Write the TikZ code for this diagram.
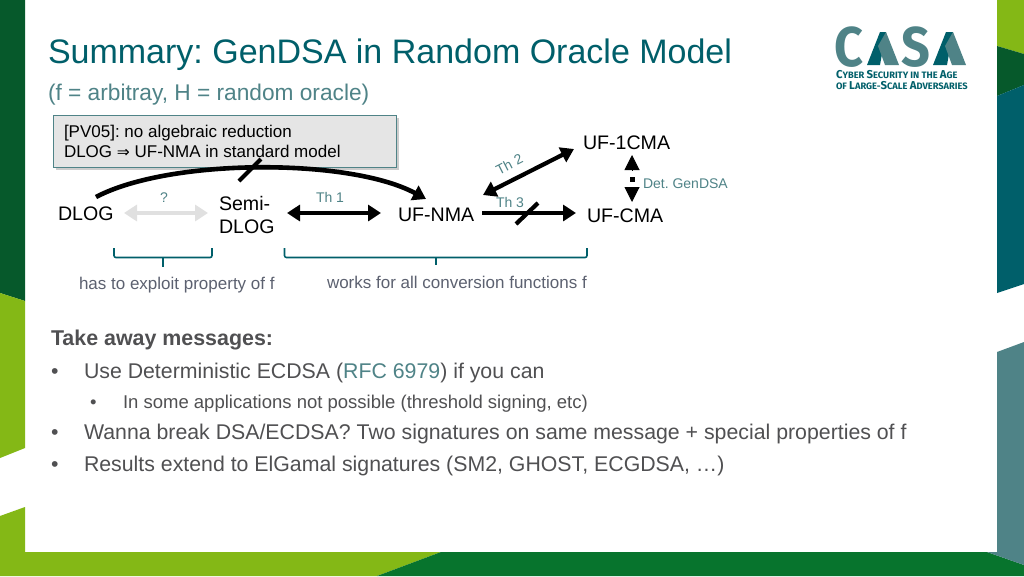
\documentclass[tikz,border=0pt]{standalone}
\usepackage{graphicx}
\usepackage{fontspec}
\setmainfont{Liberation Sans}
\newfontfamily\logofont{Fira Sans}
\newfontfamily\symfont{DejaVu Sans}
\usetikzlibrary{arrows.meta,shadows}
\AtBeginDocument{\frenchspacing}
\definecolor{lgreen}{HTML}{84B816}
\definecolor{dgreen}{HTML}{06592B}
\definecolor{bgreen}{HTML}{07742D}
\definecolor{teal1}{HTML}{005F6A}
\definecolor{teal2}{HTML}{4F8387}
\definecolor{bodyc}{HTML}{505052}
\definecolor{smallc}{HTML}{5C6170}
\newcommand{\fs}[1]{\fontsize{#1}{#1}\selectfont}
\tikzset{
  x=1pt,y=-1pt,
  every node/.style={inner sep=0pt,outer sep=0pt},
  term/.style={font=\fs{19.6},text=black,anchor=base west,align=left},
  bigarrow/.style={line width=4.2pt,black,-{Triangle[length=13pt,width=16pt]}},
  bothway/.style={line width=4.2pt,black,{Triangle[length=13pt,width=16pt]}-{Triangle[length=13pt,width=16pt]}},
  greyway/.style={line width=4.2pt,black!12,{Triangle[length=13pt,width=16pt]}-{Triangle[length=13pt,width=16pt]}},
  headonly/.style={line width=1pt,black,-{Triangle[length=15pt,width=15pt]}},
  strike/.style={line width=4.2pt,black},
  thlabel/.style={font=\fs{14},text=teal2,anchor=base west},
  smalltxt/.style={font=\fs{17},text=smallc,anchor=base west},
  bracket/.style={line width=1.6pt,teal1,rounded corners=2pt},
  bodytxt/.style={font=\fs{21.3},text=bodyc,anchor=base west},
  subtxt/.style={font=\fs{18.5},text=bodyc,anchor=base west},
  logotxt/.style={font=\logofont\bfseries\fs{11.4},text=teal1,anchor=base west},
  logobig/.style={font=\logofont\bfseries\fs{56},text=teal2,anchor=base west},
}
\begin{document}
\begin{tikzpicture}
\useasboundingbox (0,0) rectangle (1024,576);
% background bands
\fill[white] (0,0) rectangle (1024,576);
\fill[dgreen] (0,0) -- (25,0) -- (25,301) -- (0,293) -- cycle;
\fill[lgreen] (0,293) -- (25,301) -- (25,448) -- (0,458) -- cycle;
\fill[lgreen] (0,516) -- (25,507) -- (25,552) -- (441,552) -- (377,576) -- (0,576) -- cycle;
\fill[bgreen] (441,552) -- (987,552) -- (1024,565) -- (1024,576) -- (377,576) -- cycle;
\fill[lgreen] (997,0) -- (1024,0) -- (1024,54) -- (997,46) -- cycle;
\fill[dgreen] (997,46) -- (1024,54) -- (1024,85) -- (997,96) -- cycle;
\fill[teal1] (997,96) -- (1024,85) -- (1024,284) -- (997,293) -- cycle;
\fill[teal2] (997,352) -- (1024,342) -- (1024,565) -- (987,552) -- (997,552) -- cycle;
% title
\node[font=\fs{34},text=teal1,anchor=base west] (title) at (48,63) {Summary: GenDSA in Random Oracle Model};
\node[font=\fs{22.7},text=teal2,anchor=base west] (subtitle) at (48,100) {(f = arbitray, H = random oracle)};
% logo
\node[logobig] (logoC) at (834,66) {\scalebox{.9}[1]{C}};
\node[logobig] (logoS) at (901,66) {\scalebox{.9}[1]{S}};
\fill[teal1] (867,65) -- (880,32) -- (886,32) -- (880,65) -- cycle;
\fill[teal2] (886,32) -- (899,65) -- (885,65) -- (878,46) -- cycle;
\fill[teal1] (933,65) -- (946,32) -- (953,32) -- (947,65) -- cycle;
\fill[teal2] (953,32) -- (966,65) -- (952,65) -- (945,46) -- cycle;
\node[logotxt] (logoA) at (836,78) {C\fs{9.3}YBER \fs{11.4}S\fs{9.3}ECURITY IN THE \fs{11.4}A\fs{9.3}GE};
\node[logotxt] (logoB) at (836,89.5) {\fs{9.3}OF \fs{11.4}L\fs{9.3}ARGE-\fs{11.4}S\fs{9.3}CALE \fs{11.4}A\fs{9.3}DVERSARIES};
% callout
\node[draw=teal2,line width=1pt,fill=black!10,minimum width=343pt,minimum height=52pt,anchor=north west,
  drop shadow={shadow xshift=3pt,shadow yshift=-3pt,opacity=.4}] (pv) at (53,115) {};
\node[font=\fs{17},text=black,anchor=base west] (pva) at (64,137) {[PV05]: no algebraic reduction};
\node[font=\fs{17},text=black,anchor=base west] (pvb) at (64,157.5) {DLOG {\symfont\fs{15.5}⇒} UF-NMA in standard model};
% terms
\node[term] (dlog) at (58,220) {DLOG};
\node[term] (semia) at (219,210) {Semi-};
\node[term] (semib) at (219,233) {DLOG};
\node[term] (nma) at (398,221) {UF-NMA};
\node[term] (cma) at (587,222) {UF-CMA};
\node[term] (onecma) at (583,149) {UF-1CMA};
% arrow ends
\coordinate (dlogtop) at (96,197);
\coordinate (nmatop) at (426,199);
\coordinate (c1a) at (170,158);
\coordinate (c1b) at (350,158);
\coordinate (gA) at (124,213);
\coordinate (gB) at (208,213);
\coordinate (t1A) at (287,213);
\coordinate (t1B) at (381,213);
\coordinate (t2A) at (483,195);
\coordinate (t2B) at (574,149);
\coordinate (t3A) at (482,213);
\coordinate (t3B) at (576,213);
\coordinate (dA) at (632,155);
\coordinate (dAb) at (632,170);
\coordinate (dB) at (632,202);
\coordinate (dBb) at (632,187);
\coordinate (sa) at (239,181);
\coordinate (sb) at (261,159);
\coordinate (sc) at (516,224);
\coordinate (sd) at (538,203);
% connectors
\draw[line width=4.6pt,black,-{Triangle[length=13pt,width=16pt]}] (dlogtop) .. controls (c1a) and (c1b) .. (nmatop);
\draw[strike] (sa) -- (sb);
\draw[greyway] (gA) -- (gB);
\draw[bothway] (t1A) -- (t1B);
\draw[bothway] (t2A) -- (t2B);
\draw[bigarrow] (t3A) -- (t3B);
\draw[strike] (sc) -- (sd);
\draw[headonly] (dAb) -- (dA);
\draw[headonly] (dBb) -- (dB);
\fill[black] (629.5,177) rectangle (634.5,181.5);
% small labels
\node[thlabel] (q) at (160,202) {?};
\node[thlabel] (th1) at (316,202) {Th 1};
\node[thlabel,rotate=27,anchor=base west] (th2) at (499,175) {Th 2};
\node[thlabel] (th3) at (496,207) {Th 3};
\node[thlabel] (det) at (643,188) {Det. GenDSA};
% brackets
\draw[bracket] (114,248) -- (114,257.5) -- (212,257.5) -- (212,248);
\draw[line width=1.6pt,teal1] (163,257.5) -- (163,267);
\draw[bracket] (284.5,248) -- (284.5,257.5) -- (587,257.5) -- (587,248);
\draw[line width=1.6pt,teal1] (436,257.5) -- (436,265);
\node[smalltxt] (f1) at (79,289) {has to exploit property of f};
\node[smalltxt] (f2) at (327,288) {works for all conversion functions f};
% body
\node[font=\bfseries\fs{21.4},text=bodyc,anchor=base west] (take) at (51,345) {Take away messages:};
\node[bodytxt] (bu1) at (51,378) {•};
\node[bodytxt] (b1) at (84,378) {Use Deterministic ECDSA (\textcolor{teal2}{RFC 6979}) if you can};
\node[subtxt] (bu2) at (90,408) {•};
\node[subtxt] (b2) at (123,408) {In some applications not possible (threshold signing, etc)};
\node[bodytxt] (bu3) at (51,439) {•};
\node[bodytxt] (b3) at (84,439) {Wanna break DSA/ECDSA? Two signatures on same message + special properties of f};
\node[bodytxt] (bu4) at (51,471) {•};
\node[bodytxt] (b4) at (84,471) {Results extend to ElGamal signatures (SM2, GHOST, ECGDSA, …)};
\end{tikzpicture}
\end{document}
